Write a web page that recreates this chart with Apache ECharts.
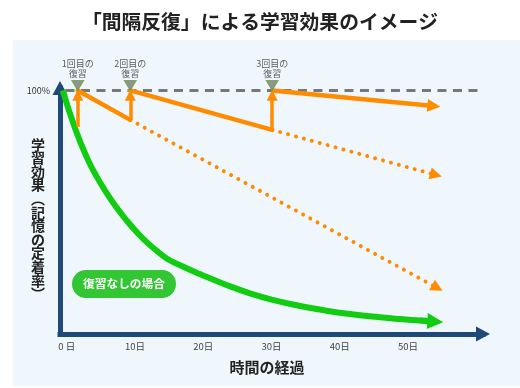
<!DOCTYPE html>
<html><head><meta charset="utf-8">
<script src="https://cdn.jsdelivr.net/npm/echarts@6/dist/echarts.min.js"></script>
<style>html,body{margin:0;padding:0;background:#fff}#c{width:520px;height:388px}</style>
</head><body><div id="c"></div>
<script>
// ---- data ----
const titleText = '「間隔反復」による学習効果のイメージ';
const xAxisName = '時間の経過';
const yAxisName = '学習効果︵記憶の定着率︶';
const xTicks = [0, 10, 20, 30, 40, 50];
const xTickLabels = ['0 日', '10日', '20日', '30日', '40日', '50日'];
const yTicks = [100];
const yTickLabels = ['100%'];
const reviewDays = [1.6, 9.3, 30.1];
const reviewLabels = ['1回目の\n復習', '2回目の\n復習', '3回目の\n復習'];
const beforeReview = [85.0, 87.9, 83.8];
const afterReview = [100, 100, 100];
const lastSegmentEnd = [53.8, 93.6];
const forgetEndDays = [54.3, 54.1];
const forgetEndValues = [18.9, 65.3];
const noReviewDays = [-0.6, 1.2, 3.0, 4.4, 6.0, 7.35, 8.8, 10.3, 11.75, 13.2, 14.7, 17.0, 19.5, 23.2, 26.85, 30.5, 34.2, 37.8, 41.5, 45.2, 48.8, 51.8, 54.0];
const noReviewValues = [100, 84.5, 72.1, 64.5, 57.2, 51.7, 46.5, 41.7, 37.6, 34.1, 30.9, 27.7, 24.6, 20.35, 16.7, 13.8, 11.5, 9.7, 8.2, 7.05, 6.15, 5.55, 5.1];
const noReviewLabel = '復習なしの場合';
const fullRetention = 100;
const refLineRange = [-0.2, 61];

const FONT = '"Noto Sans CJK JP", "Noto Sans", sans-serif';
const ORANGE = '#ff8c00';
const GREEN = '#11cc11';
const NAVY = '#1f4a78';

const chart = echarts.init(document.getElementById('c'));

const solidSeg = [];
for (let i = 0; i < reviewDays.length - 1; i++) {
  solidSeg.push({coords: [[reviewDays[i], afterReview[i]], [reviewDays[i + 1], beforeReview[i + 1]]]});
}
const lastSeg = [{coords: [[reviewDays[2], afterReview[2]], lastSegmentEnd]}];
const upArrows = reviewDays.map((d, i) => ({coords: [[d, beforeReview[i]], [d, afterReview[i] - 2]]}));
const dotted = forgetEndDays.map((d, i) => ({coords: [[reviewDays[i + 1], beforeReview[i + 1]], [d, forgetEndValues[i]]]}));
const n = noReviewDays.length;
const greenHead = [{coords: [[noReviewDays[n - 2], noReviewValues[n - 2]], [noReviewDays[n - 1], noReviewValues[n - 1]]]}];

const option = {
  animation: false,
  backgroundColor: '#ffffff',
  textStyle: {fontFamily: FONT},
  title: {
    text: titleText, left: 'center', top: 7,
    textStyle: {fontFamily: FONT, fontSize: 19.8, fontWeight: 'bold', color: '#222'}
  },
  grid: {left: 60, right: 37, top: 88, bottom: 54},
  xAxis: {
    type: 'value', min: -1, max: 61,
    axisLine: {show: true, onZero: false, symbol: ['none', 'triangle'], symbolSize: [15, 14],
      lineStyle: {color: NAVY, width: 5, cap: 'square'}},
    axisTick: {show: false}, splitLine: {show: false},
    axisLabel: {customValues: xTicks, formatter: v => xTickLabels[xTicks.indexOf(v)],
      margin: 8, fontSize: 9.5, color: '#444', fontFamily: FONT}
  },
  yAxis: {
    type: 'value', min: 0, max: 101,
    axisLine: {show: true, onZero: false, symbol: ['none', 'triangle'], symbolSize: [15, 14],
      lineStyle: {color: NAVY, width: 5, cap: 'square'}},
    axisTick: {show: false}, splitLine: {show: false},
    axisLabel: {customValues: yTicks, formatter: v => yTickLabels[yTicks.indexOf(v)],
      margin: 10, fontSize: 9, color: '#333', fontFamily: FONT}
  },
  graphic: [
    {type: 'rect', z: -10, shape: {x: 13, y: 40, width: 507, height: 346}, style: {fill: '#eff7fd'}},
    {type: 'text', z: 10, style: {text: yAxisName.split('').join('\n'), x: 38, y: 219,
      textAlign: 'center', textVerticalAlign: 'middle', fontSize: 14, fontWeight: 'bold',
      lineHeight: 13.6, fontFamily: FONT, fill: '#222'}},
    {type: 'text', z: 10, style: {text: xAxisName, x: 267, y: 367, textAlign: 'center',
      textVerticalAlign: 'middle', fontSize: 15, fontWeight: 'bold', fontFamily: FONT, fill: '#222'}},
    {type: 'rect', z: 20, shape: {x: 72, y: 270, width: 104, height: 28, r: 14}, style: {fill: '#33c633'}},
    {type: 'text', z: 21, style: {text: noReviewLabel, x: 124, y: 284, textAlign: 'center',
      textVerticalAlign: 'middle', fontSize: 11.7, fontWeight: 'bold', fontFamily: FONT, fill: '#fff'}}
  ],
  series: [
    {type: 'lines', coordinateSystem: 'cartesian2d', z: 3, silent: true,
      data: [{coords: [[refLineRange[0], fullRetention], [refLineRange[1], fullRetention]]}],
      symbol: ['none', 'none'],
      lineStyle: {color: '#777', width: 3, type: [9, 6.5], opacity: 1}},
    {type: 'line', z: 4, silent: true, smooth: 0.5, showSymbol: false,
      data: noReviewDays.map((d, i) => [d, noReviewValues[i]]),
      lineStyle: {color: GREEN, width: 6, join: 'round'}},
    {type: 'lines', coordinateSystem: 'cartesian2d', z: 4, silent: true, data: greenHead,
      symbol: ['none', 'triangle'], symbolSize: 16,
      lineStyle: {color: GREEN, width: 6, opacity: 1}},
    {type: 'lines', coordinateSystem: 'cartesian2d', z: 5, silent: true, data: dotted,
      symbol: ['none', 'triangle'], symbolSize: 12,
      lineStyle: {color: ORANGE, width: 4, type: [0.01, 8.2], cap: 'round', opacity: 1}},
    {type: 'lines', coordinateSystem: 'cartesian2d', z: 6, silent: true, data: solidSeg,
      symbol: ['none', 'none'],
      lineStyle: {color: ORANGE, width: 4.5, opacity: 1, cap: 'round'}},
    {type: 'lines', coordinateSystem: 'cartesian2d', z: 6, silent: true, data: lastSeg,
      symbol: ['none', 'triangle'], symbolSize: 13,
      lineStyle: {color: ORANGE, width: 4.5, opacity: 1}},
    {type: 'lines', coordinateSystem: 'cartesian2d', z: 7, silent: true, data: upArrows,
      symbol: ['none', 'triangle'], symbolSize: 11,
      lineStyle: {color: ORANGE, width: 3.5, opacity: 1}},
    {type: 'scatter', z: 8, silent: true,
      data: reviewDays.map((d, i) => ({value: [d, fullRetention], name: reviewLabels[i]})),
      symbol: 'triangle', symbolRotate: 180, symbolSize: [12, 10], symbolOffset: [0, -5],
      itemStyle: {color: '#777', borderColor: '#6aa83a', borderWidth: 1},
      label: {show: true, position: 'top', distance: 1, formatter: p => p.name,
        fontSize: 9, lineHeight: 10.5, color: '#333', fontFamily: FONT, align: 'center'}}
  ]
};
chart.setOption(option);
</script></body></html>
